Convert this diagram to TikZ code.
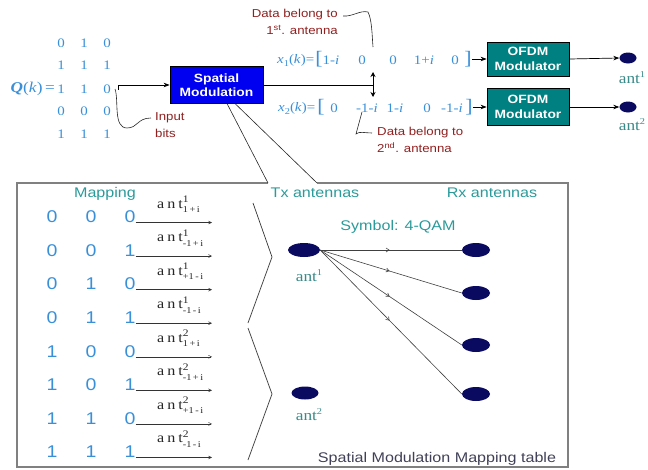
\documentclass[tikz,border=0pt]{standalone}
\usepackage{fontspec}
\setmainfont{Liberation Sans}[FakeStretch=1.15]
\newfontfamily\serifw{Liberation Serif}[FakeStretch=1.15]
\usetikzlibrary{arrows.meta,decorations.markings,shapes.geometric}
\definecolor{smblue}{HTML}{0000F0}
\definecolor{ofdmc}{HTML}{008080}
\definecolor{dred}{HTML}{902020}
\definecolor{mblue}{HTML}{3A90D8}
\definecolor{tealtxt}{HTML}{2A9A9A}
\definecolor{antc}{HTML}{3A8A8A}
\definecolor{navy}{HTML}{0A0A60}
\definecolor{boxgray}{HTML}{808080}
\definecolor{capc}{HTML}{404058}
\newcommand{\antlab}[2]{{\serifw\fontsize{14}{14}\selectfont a\hspace{3pt}n\hspace{3pt}t}\rlap{\raisebox{5.5pt}{\serifw\fontsize{10}{10}\selectfont #1}}\raisebox{-4.5pt}{\serifw\fontsize{9}{9}\selectfont #2}}
\newcommand{\xlab}[1]{\textit{x}\raisebox{-3pt}{\fontsize{9}{9}\selectfont #1}(\textit{k})=}
\newcommand{\antsup}[1]{ant\raisebox{6pt}{\fontsize{9}{9}\selectfont #1}}
\begin{document}
\begin{tikzpicture}[x=1pt,y=-1pt,
  redtxt/.style={text=dred,font=\fontsize{11.5}{17}\selectfont,inner sep=0},
  mtxt/.style={text=mblue,font=\serifw\fontsize{13}{14}\selectfont,inner sep=0},
  brk/.style={text=mblue,font=\serifw\fontsize{19}{19}\selectfont,inner sep=0},
  qdig/.style={text=mblue,font=\serifw\fontsize{13}{13}\selectfont,inner sep=0},
  tdig/.style={text=mblue,font=\fontsize{17}{17}\selectfont,inner sep=0},
  smbox/.style={draw=black,line width=0.8pt,fill=smblue,text=white,font=\bfseries\fontsize{12}{14}\selectfont,align=center,minimum width=93,minimum height=37,inner sep=0},
  ofdmbox/.style={draw=black,line width=0.8pt,fill=ofdmc,text=white,font=\bfseries\fontsize{12}{15}\selectfont,align=center,minimum width=82,minimum height=35,inner sep=0},
  antell/.style={ellipse,fill=navy,inner sep=0},
  tealt/.style={text=tealtxt,font=\fontsize{14}{14}\selectfont,inner sep=0},
  antl/.style={text=antc,font=\serifw\fontsize{15}{15}\selectfont,inner sep=0},
  arr/.style={-{Stealth[length=6pt,width=4.5pt]},line width=0.7pt},
  thin/.style={line width=0.6pt,black!85},
  maparr/.style={line width=0.5pt,black!80,-{Straight Barb[length=3pt,width=3pt]}},
  chan/.style={line width=0.6pt,black!75,postaction={decorate},decoration={markings,mark=at position 0.49 with {\arrow{Straight Barb[length=3pt,width=4pt]}}}},
  boxline/.style={draw=boxgray,line width=1.3pt}]
\useasboundingbox (0,0) rectangle (648,469);

% ---------- input matrix ----------
\node[text=mblue,font=\serifw\fontsize{15}{15}\selectfont,inner sep=0,anchor=east] (Q) at (55,89) {\textbf{\textit{Q}}(\textit{k})\,=};
\foreach \r/\y/\a/\b/\c in {1/43/0/1/0,2/65/1/1/1,3/89/1/1/0,4/111/0/0/0,5/134/1/1/1}{
  \node[qdig] (m\r a) at (61,\y) {\a};
  \node[qdig] (m\r b) at (84,\y) {\b};
  \node[qdig] (m\r c) at (107,\y) {\c};
}
% spatial modulation block
\node[smbox] (SM) at (216.5,85) {Spatial\\Modulation};
\coordinate (inStart) at (118,89.5);
\draw[arr] (inStart) |- (SM.west);
% input bits callout
\coordinate (ib0) at (115,89);
\coordinate (ib1) at (151,118);
\draw[thin] (ib0) .. controls (119,100) and (113,128) .. (127,128) .. controls (138,128) and (137,118) .. (ib1);
\node[redtxt,anchor=north west,align=left] (IB) at (155,112) {Input\\bits};

% output of spatial modulation
\coordinate (junc) at (373,85);
\coordinate (da) at (373,72);
\coordinate (db) at (373,97);
\draw[line width=0.7pt] (SM.east) -- (junc);
\draw[line width=0.9pt,{Stealth[length=5pt,width=5pt]}-{Stealth[length=5pt,width=5pt]}] (da) -- (db);

% x1 row
\node[mtxt,anchor=west] (x1l) at (277,60) {\xlab{1}};
\node[brk] (x1o) at (319,59) {[};
\node[mtxt] (x1a) at (331,60) {1-\textit{i}};
\node[mtxt] (x1b) at (362,60) {0};
\node[mtxt] (x1c) at (393,60) {0};
\node[mtxt] (x1d) at (424,60) {1+\textit{i}};
\node[mtxt] (x1e) at (455,60) {0};
\node[brk] (x1c2) at (468,59) {]};
% x2 row
\node[mtxt,anchor=west] (x2l) at (278,108) {\xlab{2}};
\node[brk] (x2o) at (321,107) {[};
\node[mtxt] (x2a) at (334,108) {0};
\node[mtxt] (x2b) at (367,108) {-1-\textit{i}};
\node[mtxt] (x2c) at (395,108) {1-\textit{i}};
\node[mtxt] (x2d) at (427,108) {0};
\node[mtxt] (x2e) at (452,108) {-1-\textit{i}};
\node[brk] (x2c2) at (469,107) {]};

% OFDM modulators
\node[ofdmbox,minimum height=34] (O1) at (528,59) {OFDM\\Modulator};
\node[ofdmbox,minimum height=37] (O2) at (528,107) {OFDM\\Modulator};
\draw[arr] (x1c2.east) -- (O1.west);
\draw[arr] (x2c2.east) -- (O2.west);
\node[antell,minimum width=17,minimum height=11] (A1) at (628,58) {};
\node[antell,minimum width=17,minimum height=11] (A2) at (628,107) {};
\draw[arr] (O1.east) -- (A1.west);
\draw[arr] (O2.east) -- (A2.west);
\node[antl] (A1l) at (632,78) {\antsup{1}};
\node[antl] (A2l) at (632,125) {\antsup{2}};

% data belong callouts
\node[redtxt,anchor=north east,align=right] (D1) at (338,9) {Data belong to\\1\textsuperscript{st}. antenna};
\coordinate (d1a) at (343,16);
\coordinate (d1b) at (373,47);
\draw[thin] (d1a) .. controls (352,17) and (360,10) .. (368,12) .. controls (372,20) and (372,35) .. (d1b);
\node[redtxt,anchor=north west,align=left] (D2) at (377,127) {Data belong to\\2\textsuperscript{nd}. antenna};
\coordinate (d2a) at (362,112);
\coordinate (d2b) at (372,133);
\draw[thin] (d2a) -- (356,134) .. controls (359,131) and (365,133) .. (d2b);

% ---------- mapping table box ----------
\coordinate (w1) at (268,183);
\coordinate (w2) at (317,183);
\draw[boxline] (w1) -- (17,183) -- (17,467) -- (568,467) -- (568,183) -- (w2);
\coordinate (s1) at (227,103.5);
\coordinate (s2) at (235,103.5);
\draw[thin] (s1) -- (w1);
\draw[thin] (s2) -- (w2);

\node[tealt] (MapT) at (105,194) {Mapping};
\node[tealt] (TxT) at (315,193) {Tx antennas};
\node[tealt] (RxT) at (492,193) {Rx antennas};
\node[tealt] (SymT) at (398,227) {Symbol: 4-QAM};
\node[text=capc,font=\fontsize{14}{14}\selectfont,inner sep=0] (Cap) at (437,459) {Spatial Modulation Mapping table};

\foreach \i/\a/\b/\c/\s/\t in {0/0/0/0/1/1\,+\,i,1/0/0/1/1/-1\,+\,i,2/0/1/0/1/+1\,-\,i,3/0/1/1/1/-1\,-\,i,4/1/0/0/2/1\,+\,i,5/1/0/1/2/-1\,+\,i,6/1/1/0/2/+1\,-\,i,7/1/1/1/2/-1\,-\,i}{
  \pgfmathsetmacro{\yy}{217+33.57*\i}
  \node[tdig] (t\i a) at (52,\yy) {\a};
  \node[tdig] (t\i b) at (91,\yy) {\b};
  \node[tdig] (t\i c) at (130,\yy) {\c};
  \coordinate (e\i) at (212,\yy+5.5);
  \draw[maparr] (t\i c.east |- e\i) -- (e\i);
  \node[inner sep=0,anchor=base west,text=black!85] (l\i) at (157,\yy-9) {\antlab{\s}{\t}};
}

% zigzag braces
\draw[line width=0.7pt,black!80] (253,203) -- (272,257) -- (248,323);
\draw[line width=0.7pt,black!80] (248,328) -- (272,394) -- (248,460);

% antennas
\node[antell,minimum width=32,minimum height=14] (T1) at (304,250) {};
\node[antell,minimum width=27,minimum height=13] (T2) at (305,393) {};
\node[antl] (T1l) at (309,276) {\antsup{1}};
\node[antl] (T2l) at (309,415) {\antsup{2}};
\foreach \k/\y in {1/250,2/293,3/345,4/394}{
  \node[antell,minimum width=28,minimum height=14] (R\k) at (476,\y) {};
  \draw[chan] (T1.east) -- (R\k.west);
}
\end{tikzpicture}
\end{document}
